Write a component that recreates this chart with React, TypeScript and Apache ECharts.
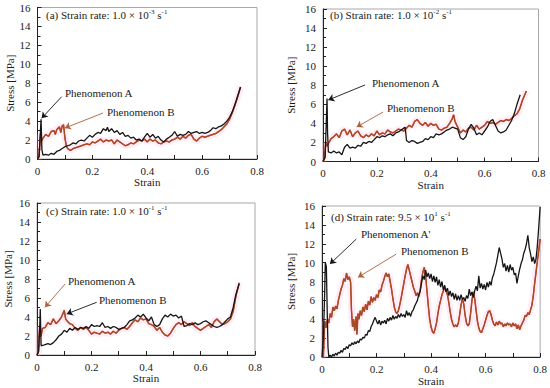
import React, { useEffect, useRef } from 'react';
import * as echarts from 'echarts';

const FONT = '"Liberation Serif", "Times New Roman", serif';

const panelLetters = ['a', 'b', 'c', 'd'];
const rateMantissa = ['1.0', '1.0', '1.0', '9.5'];
const rateExponent = ['-3', '-2', '-1', '1'];
const xTickLabels = ['0', '0.2', '0.4', '0.6', '0.8'];
const yTickLabels = ['0', '2', '4', '6', '8', '10', '12', '14', '16'];

const aBlack = [[0,0],[0.006,0.3],[0.01,2.6],[0.013,4.2],[0.016,1.0],[0.02,0.4],[0.03,0.5],[0.04,0.4],[0.05,0.6],[0.06,0.5],[0.07,0.8],[0.08,0.9],[0.09,1.1],[0.1,1.3],[0.11,1.4],[0.12,1.5],[0.13,1.7],[0.14,1.6],[0.15,1.9],[0.16,2.0],[0.17,1.9],[0.18,2.2],[0.19,2.5],[0.2,2.3],[0.21,2.6],[0.22,2.8],[0.23,2.7],[0.24,3.2],[0.25,3.0],[0.255,3.35],[0.26,2.9],[0.27,3.2],[0.28,2.8],[0.29,3.0],[0.3,2.6],[0.31,2.8],[0.32,2.4],[0.33,2.5],[0.34,2.2],[0.35,2.3],[0.36,2.0],[0.37,2.1],[0.38,1.9],[0.39,2.3],[0.4,2.7],[0.41,2.3],[0.42,2.6],[0.43,2.2],[0.44,2.4],[0.45,2.0],[0.46,1.8],[0.47,2.1],[0.48,2.3],[0.49,2.5],[0.5,2.9],[0.51,2.4],[0.52,2.6],[0.53,2.5],[0.54,2.6],[0.55,2.9],[0.56,2.7],[0.57,2.8],[0.58,2.9],[0.59,2.7],[0.6,2.8],[0.61,2.7],[0.62,2.8],[0.63,3.0],[0.64,3.3],[0.65,3.2],[0.66,3.4],[0.67,3.5],[0.68,3.7],[0.69,4.0],[0.7,4.4],[0.71,5.0],[0.72,5.8],[0.73,6.7],[0.74,7.6]];
const aRed = [[0,0],[0.005,0.2],[0.008,1.4],[0.011,2.6],[0.015,1.9],[0.02,2.2],[0.03,2.6],[0.04,2.4],[0.05,2.9],[0.06,3.0],[0.065,2.6],[0.07,3.1],[0.08,3.4],[0.085,2.8],[0.09,3.5],[0.095,3.6],[0.1,2.2],[0.105,1.4],[0.11,1.1],[0.12,0.9],[0.13,1.1],[0.14,1.2],[0.15,1.3],[0.16,1.4],[0.17,1.5],[0.18,1.6],[0.19,1.5],[0.2,1.8],[0.21,1.7],[0.22,1.9],[0.23,2.1],[0.24,1.8],[0.25,2.0],[0.26,1.9],[0.27,2.0],[0.28,1.6],[0.29,2.0],[0.3,1.8],[0.31,1.6],[0.32,1.4],[0.33,1.5],[0.34,1.7],[0.35,1.6],[0.36,1.8],[0.37,2.0],[0.38,1.9],[0.39,2.1],[0.4,1.8],[0.41,2.1],[0.42,1.9],[0.43,2.0],[0.44,1.7],[0.45,1.6],[0.46,1.8],[0.47,1.9],[0.48,1.8],[0.49,2.0],[0.5,2.1],[0.51,2.3],[0.52,2.1],[0.53,2.4],[0.54,2.2],[0.55,2.5],[0.56,2.6],[0.57,2.1],[0.58,1.9],[0.59,2.2],[0.6,2.4],[0.61,2.3],[0.62,2.4],[0.63,2.5],[0.64,2.6],[0.65,2.7],[0.66,2.9],[0.67,3.1],[0.68,3.4],[0.69,3.7],[0.7,4.2],[0.71,4.9],[0.72,5.7],[0.73,6.6],[0.74,7.6]];

const bBlack = [[0,0],[0.008,0.5],[0.012,4.0],[0.015,6.6],[0.017,3.0],[0.02,1.0],[0.03,0.9],[0.04,1.1],[0.05,0.9],[0.06,1.0],[0.07,0.7],[0.08,1.5],[0.09,1.8],[0.1,1.4],[0.11,1.5],[0.12,1.4],[0.13,1.7],[0.14,1.6],[0.15,2.0],[0.16,1.9],[0.17,2.1],[0.18,2.0],[0.19,2.3],[0.2,2.6],[0.21,2.5],[0.22,2.7],[0.23,2.6],[0.24,2.8],[0.25,2.9],[0.26,2.7],[0.27,3.0],[0.28,3.1],[0.29,3.3],[0.3,3.5],[0.305,3.6],[0.31,2.2],[0.32,2.0],[0.33,2.2],[0.34,2.1],[0.35,1.9],[0.36,2.0],[0.37,2.1],[0.38,2.4],[0.39,2.3],[0.4,2.6],[0.41,2.5],[0.42,2.9],[0.43,2.8],[0.44,2.9],[0.45,3.1],[0.46,3.3],[0.47,3.4],[0.48,3.6],[0.49,3.5],[0.5,3.4],[0.51,2.5],[0.52,2.3],[0.53,2.6],[0.54,3.4],[0.55,3.9],[0.56,3.5],[0.57,2.8],[0.58,3.0],[0.59,2.8],[0.6,3.2],[0.61,3.6],[0.62,4.2],[0.63,4.4],[0.64,3.8],[0.65,3.2],[0.66,3.0],[0.67,3.1],[0.68,3.3],[0.69,3.8],[0.7,4.3],[0.71,5.0],[0.72,6.0],[0.732,7.0]];
const bRed = [[0,0],[0.006,0.3],[0.01,2.0],[0.015,1.6],[0.02,1.9],[0.03,2.4],[0.04,2.6],[0.05,2.9],[0.06,2.5],[0.07,3.2],[0.08,3.4],[0.09,2.8],[0.1,3.3],[0.11,2.6],[0.12,3.0],[0.13,3.2],[0.14,2.7],[0.15,2.5],[0.16,2.8],[0.17,2.6],[0.18,2.9],[0.19,2.7],[0.2,3.2],[0.21,2.8],[0.22,3.0],[0.23,2.9],[0.24,3.3],[0.25,3.1],[0.26,3.0],[0.27,3.2],[0.28,3.4],[0.29,3.3],[0.3,3.2],[0.31,3.5],[0.32,3.8],[0.33,3.6],[0.34,4.2],[0.35,4.4],[0.36,4.0],[0.37,3.8],[0.38,4.1],[0.39,3.7],[0.4,4.0],[0.41,3.8],[0.42,3.9],[0.43,3.4],[0.44,3.3],[0.45,3.5],[0.46,3.6],[0.47,4.0],[0.48,4.5],[0.485,4.9],[0.49,4.2],[0.5,3.6],[0.51,3.0],[0.52,3.3],[0.53,3.1],[0.54,3.5],[0.55,3.6],[0.56,3.3],[0.57,3.8],[0.58,3.4],[0.59,3.6],[0.6,3.8],[0.61,4.2],[0.62,4.0],[0.63,4.1],[0.64,3.9],[0.65,4.1],[0.66,4.3],[0.67,4.2],[0.68,4.4],[0.69,4.3],[0.7,4.5],[0.71,4.8],[0.72,5.0],[0.73,5.5],[0.74,6.4],[0.755,7.4]];

const cBlack = [[0,0],[0.006,0.4],[0.01,3.0],[0.012,4.85],[0.015,1.0],[0.02,1.0],[0.03,1.1],[0.04,1.2],[0.05,1.1],[0.06,1.3],[0.07,1.6],[0.08,2.0],[0.09,2.2],[0.1,2.6],[0.11,2.4],[0.12,2.8],[0.13,2.6],[0.14,2.9],[0.15,2.7],[0.16,2.9],[0.17,2.8],[0.18,3.0],[0.19,2.8],[0.2,3.2],[0.21,3.0],[0.22,3.1],[0.23,3.0],[0.24,3.4],[0.25,2.9],[0.26,3.0],[0.27,2.8],[0.28,3.0],[0.29,2.9],[0.3,2.7],[0.31,2.8],[0.32,2.9],[0.33,3.2],[0.34,3.6],[0.35,3.7],[0.36,3.9],[0.37,4.2],[0.38,4.0],[0.39,4.3],[0.4,3.9],[0.41,3.6],[0.42,4.0],[0.43,3.2],[0.44,3.0],[0.45,3.2],[0.46,3.8],[0.47,4.2],[0.48,4.0],[0.49,4.3],[0.5,4.1],[0.51,4.2],[0.52,3.9],[0.53,4.1],[0.54,3.0],[0.55,3.1],[0.56,3.3],[0.57,3.2],[0.58,3.4],[0.59,3.2],[0.6,3.3],[0.61,3.5],[0.62,3.6],[0.63,3.4],[0.64,3.2],[0.65,3.0],[0.66,2.9],[0.67,3.0],[0.68,3.2],[0.69,3.5],[0.7,3.8],[0.71,4.0],[0.72,5.0],[0.73,6.4],[0.742,7.5]];
const cRed = [[0,0],[0.005,0.3],[0.01,3.0],[0.015,2.0],[0.02,2.8],[0.03,2.9],[0.04,3.4],[0.05,3.2],[0.06,3.8],[0.07,3.3],[0.08,3.6],[0.09,4.0],[0.1,4.7],[0.105,3.8],[0.11,3.6],[0.12,3.3],[0.13,3.2],[0.14,2.8],[0.15,2.6],[0.16,2.9],[0.17,2.7],[0.18,2.9],[0.19,2.6],[0.2,2.2],[0.21,2.4],[0.22,2.3],[0.23,2.2],[0.24,2.5],[0.25,2.3],[0.26,2.4],[0.27,2.2],[0.28,2.5],[0.29,2.3],[0.3,2.6],[0.31,2.8],[0.32,2.9],[0.33,2.7],[0.34,3.0],[0.35,3.4],[0.36,3.7],[0.37,3.5],[0.38,3.9],[0.39,3.7],[0.4,3.8],[0.41,3.3],[0.42,3.2],[0.43,3.0],[0.44,2.6],[0.45,2.9],[0.46,2.4],[0.47,2.1],[0.48,2.0],[0.49,2.3],[0.5,2.8],[0.51,3.2],[0.52,3.4],[0.53,3.2],[0.54,3.5],[0.55,3.3],[0.56,3.1],[0.57,3.4],[0.58,3.0],[0.59,2.8],[0.6,2.6],[0.61,2.8],[0.62,3.0],[0.63,3.2],[0.64,2.9],[0.65,3.5],[0.66,3.8],[0.67,3.5],[0.68,3.2],[0.69,3.3],[0.7,3.5],[0.71,3.8],[0.72,4.6],[0.73,6.2],[0.742,7.6]];

const dBlack = [[0,0],[0.005,2.0],[0.01,7.0],[0.012,10.0],[0.016,9.6],[0.019,5.0],[0.022,1.0],[0.025,0],[0.03,0.2],[0.035,0.0],[0.04,0.3],[0.045,0.1],[0.05,0.4],[0.055,0.2],[0.06,0.5],[0.065,0.4],[0.07,0.7],[0.075,0.5],[0.08,0.9],[0.085,0.8],[0.09,1.1],[0.095,0.9],[0.1,1.3],[0.105,1.2],[0.11,1.5],[0.115,1.3],[0.12,1.6],[0.125,1.4],[0.13,1.7],[0.135,1.5],[0.14,1.9],[0.145,1.8],[0.15,2.1],[0.155,2.0],[0.16,2.4],[0.165,2.3],[0.17,2.8],[0.175,2.7],[0.18,3.2],[0.185,3.5],[0.19,3.9],[0.195,4.2],[0.2,3.8],[0.205,3.5],[0.21,3.9],[0.215,3.4],[0.22,3.8],[0.225,3.6],[0.23,3.9],[0.235,3.5],[0.24,4.1],[0.245,3.8],[0.25,4.2],[0.255,3.9],[0.26,4.4],[0.265,4.0],[0.27,4.3],[0.275,4.1],[0.28,4.5],[0.285,4.2],[0.29,4.6],[0.295,4.3],[0.3,4.5],[0.305,4.2],[0.31,4.9],[0.315,4.4],[0.32,4.7],[0.325,4.3],[0.33,4.8],[0.335,5.0],[0.34,5.4],[0.345,5.7],[0.35,6.0],[0.355,6.6],[0.36,7.0],[0.365,7.8],[0.37,8.6],[0.375,8.2],[0.38,9.2],[0.385,8.5],[0.39,8.9],[0.395,8.3],[0.4,8.8],[0.405,8.0],[0.41,8.6],[0.415,7.9],[0.42,8.5],[0.425,7.6],[0.43,8.2],[0.435,7.4],[0.44,8.0],[0.445,7.1],[0.45,7.6],[0.455,6.9],[0.46,7.3],[0.465,6.5],[0.47,7.0],[0.475,6.4],[0.48,6.8],[0.485,6.1],[0.49,6.7],[0.495,6.0],[0.5,6.5],[0.505,6.0],[0.51,6.6],[0.515,6.1],[0.52,6.3],[0.525,5.9],[0.53,6.5],[0.535,6.2],[0.54,7.2],[0.545,6.5],[0.55,6.9],[0.555,6.3],[0.56,7.0],[0.565,7.5],[0.57,7.0],[0.575,8.6],[0.58,7.3],[0.585,7.8],[0.59,7.2],[0.595,7.7],[0.6,7.1],[0.605,7.9],[0.61,7.4],[0.615,8.0],[0.62,7.6],[0.625,8.4],[0.63,8.8],[0.635,9.4],[0.64,10.0],[0.645,10.8],[0.65,11.6],[0.655,11.0],[0.66,10.4],[0.665,9.5],[0.67,9.9],[0.675,9.1],[0.68,9.7],[0.685,9.0],[0.69,9.8],[0.695,9.2],[0.7,9.5],[0.705,8.7],[0.71,8.9],[0.715,7.8],[0.72,8.6],[0.725,9.3],[0.73,9.9],[0.735,10.3],[0.74,11.0],[0.745,11.4],[0.75,12.0],[0.755,12.9],[0.76,11.6],[0.765,10.9],[0.77,10.1],[0.775,10.6],[0.78,9.9],[0.785,10.4],[0.79,11.8],[0.795,13.8],[0.8,15.9]];
const dRed = [[0,0],[0.005,0],[0.01,3.8],[0.015,3.1],[0.02,4.0],[0.025,3.6],[0.03,4.6],[0.035,4.2],[0.04,5.3],[0.045,4.9],[0.05,5.4],[0.055,5.1],[0.06,6.0],[0.065,6.6],[0.07,7.2],[0.075,7.6],[0.08,8.3],[0.085,8.0],[0.09,8.9],[0.095,8.2],[0.1,8.5],[0.105,7.9],[0.108,5.0],[0.112,3.2],[0.116,4.0],[0.12,2.8],[0.125,4.3],[0.128,2.4],[0.132,4.6],[0.136,4.0],[0.14,4.9],[0.145,4.4],[0.15,5.3],[0.155,4.8],[0.16,5.6],[0.165,5.0],[0.17,5.9],[0.175,5.5],[0.18,6.4],[0.185,5.8],[0.19,6.3],[0.195,6.0],[0.2,6.6],[0.205,6.3],[0.21,7.1],[0.215,6.9],[0.22,7.6],[0.225,8.0],[0.23,8.5],[0.235,8.9],[0.24,8.5],[0.245,8.8],[0.25,8.0],[0.255,7.2],[0.26,6.2],[0.265,5.3],[0.27,4.8],[0.275,4.6],[0.28,4.9],[0.285,5.5],[0.29,6.2],[0.295,7.0],[0.3,7.8],[0.305,8.6],[0.31,9.3],[0.315,9.8],[0.32,9.2],[0.325,8.6],[0.33,8.0],[0.335,7.4],[0.34,7.0],[0.345,6.5],[0.35,6.8],[0.355,6.4],[0.36,7.0],[0.365,8.2],[0.37,9.0],[0.375,9.5],[0.38,8.6],[0.385,7.0],[0.39,5.4],[0.395,4.0],[0.4,3.2],[0.405,2.7],[0.41,2.5],[0.415,3.0],[0.42,3.6],[0.425,4.6],[0.43,5.4],[0.435,6.0],[0.44,6.6],[0.445,7.0],[0.45,7.3],[0.455,7.0],[0.46,6.6],[0.465,5.8],[0.47,4.8],[0.475,4.0],[0.48,3.5],[0.485,3.2],[0.49,3.4],[0.495,3.2],[0.5,3.6],[0.505,4.5],[0.51,5.5],[0.515,6.2],[0.52,5.6],[0.525,4.4],[0.53,3.6],[0.535,3.3],[0.54,3.5],[0.545,4.6],[0.55,6.0],[0.555,6.9],[0.56,6.2],[0.565,5.0],[0.57,3.8],[0.575,3.1],[0.58,2.7],[0.585,2.6],[0.59,3.0],[0.595,3.4],[0.6,3.9],[0.605,4.4],[0.61,4.8],[0.615,4.9],[0.62,4.5],[0.625,3.9],[0.63,3.5],[0.635,3.3],[0.64,3.7],[0.645,3.4],[0.65,3.8],[0.655,3.5],[0.66,3.6],[0.665,3.2],[0.67,3.5],[0.675,3.3],[0.68,3.6],[0.685,3.4],[0.69,3.5],[0.695,3.2],[0.7,3.6],[0.705,3.3],[0.71,3.5],[0.715,3.0],[0.72,3.4],[0.725,2.9],[0.73,3.3],[0.735,3.6],[0.74,3.9],[0.745,4.4],[0.75,4.3],[0.755,4.7],[0.76,4.5],[0.765,5.0],[0.77,5.5],[0.775,6.5],[0.78,7.8],[0.785,9.0],[0.79,10.2],[0.795,11.3],[0.8,12.5]];

const blackSeries = [aBlack, bBlack, cBlack, dBlack];
const redSeries = [aRed, bRed, cRed, dRed];

// annotation labels and arrow endpoints (data coords: [strain, stress])
const annoLabels = [
  ['Phenomenon A', 'Phenomenon B'],
  ['Phenomenon A', 'Phenomenon B'],
  ['Phenomenon A', 'Phenomenon B'],
  ["Phenomenon A'", 'Phenomenon B'],
];
const arrowFrom = [
  [[0.088, 6.58], [0.239, 4.86]],
  [[0.156, 8.03], [0.223, 5.19]],
  [[0.103, 7.47], [0.219, 5.55]],
  [[0.126, 12.5], [0.272, 10.9]],
];
const arrowTo = [
  [[0.015, 4.3], [0.1, 3.27]],
  [[0.0197, 6.45], [0.125, 3.62]],
  [[0.029, 5.02], [0.109, 4.32]],
  [[0.029, 9.85], [0.132, 8.44]],
];

const BLACK = '#151515';
const RED = '#dc3522';
const BROWN = '#9a5128';
const ARROW_BROWN = '#a8623c';
const TEXT = '#1a1a1a';

const grids = [
  { left: 37.5, top: 7.5, width: 219.5, height: 151.5 },
  { left: 323, top: 9, width: 215.5, height: 152.5 },
  { left: 37, top: 203, width: 218, height: 152 },
  { left: 322, top: 206, width: 220, height: 151 },
];
const xNameGap = [17.5, 15, 15.5, 18.5];
const yNameGap = [22, 26.5, 24, 25.5];
const titlePos = [[46, 15], [330, 15], [46, 211], [331, 217]];
const annoPos = [
  [[65, 93], [107, 112]],
  [[372, 83], [387, 108]],
  [[68, 281], [99, 300]],
  [[361, 234], [401, 251]],
];
const arrowColors = [
  [BLACK, ARROW_BROWN],
  [BLACK, ARROW_BROWN],
  [ARROW_BROWN, BLACK],
  [BLACK, ARROW_BROWN],
];

function buildOption() {
  const axisColor = '#222';
  const labelStyle = { fontFamily: FONT, fontSize: 11, fontWeight: 'normal', color: TEXT };
  const xAxis: any[] = [];
  const yAxis: any[] = [];
  const series: any[] = [];
  const graphic: any[] = [];
  const grid = grids.map((g) => ({ ...g, show: true, borderColor: '#a8a8a8', borderWidth: 1, backgroundColor: 'transparent' }));

  for (let i = 0; i < 4; i++) {
    xAxis.push({
      type: 'value', gridIndex: i, min: 0, max: 0.8, interval: 0.2,
      name: 'Strain', nameLocation: 'middle', nameGap: xNameGap[i],
      nameTextStyle: labelStyle,
      axisLine: { show: true, onZero: false, lineStyle: { color: axisColor, width: 1 } },
      axisTick: { show: true, inside: true, length: 4, lineStyle: { color: axisColor } },
      minorTick: { show: true, splitNumber: 2, length: 4, lineStyle: { color: axisColor } },
      splitLine: { show: false },
      axisLabel: { ...labelStyle, margin: 6, formatter: (v: number) => xTickLabels[Math.round(v / 0.2)] },
    });
    yAxis.push({
      type: 'value', gridIndex: i, min: 0, max: 16, interval: 2,
      name: 'Stress [MPa]', nameLocation: 'middle', nameGap: yNameGap[i], nameRotate: 90,
      nameTextStyle: labelStyle,
      axisLine: { show: true, onZero: false, lineStyle: { color: axisColor, width: 1 } },
      axisTick: { show: true, inside: true, length: 4, lineStyle: { color: axisColor } },
      minorTick: { show: true, splitNumber: 2, length: 3, lineStyle: { color: axisColor } },
      splitLine: { show: false },
      axisLabel: { ...labelStyle, margin: 7, formatter: (v: number) => yTickLabels[Math.round(v / 2)] },
    });

    const common = { type: 'line', xAxisIndex: i, yAxisIndex: i, showSymbol: false, symbol: 'none', animation: false, silent: true };
    series.push({ ...common, name: `halo${i}`, data: redSeries[i], z: 1, lineStyle: { color: 'rgba(255,175,220,0.22)', width: 7 } });
    series.push({ ...common, name: `red${i}`, data: redSeries[i], z: 2, lineStyle: { color: RED, width: 1.5 } });
    series.push({ ...common, name: `brown${i}`, data: redSeries[i], z: 3, lineStyle: { color: BROWN, width: 1.1 } });
    series.push({
      ...common, name: `black${i}`, data: blackSeries[i], z: 4, lineStyle: { color: BLACK, width: 1.3 },
      markLine: {
        silent: true, animation: false, symbol: ['none', 'arrow'], symbolSize: 6,
        label: { show: false },
        data: [0, 1].map((k) => [
          { coord: arrowFrom[i][k], lineStyle: { color: arrowColors[i][k], width: 0.9, type: 'solid' }, itemStyle: { color: arrowColors[i][k] } },
          { coord: arrowTo[i][k] },
        ]),
      },
    });

    graphic.push({
      type: 'text', x: titlePos[i][0], y: titlePos[i][1],
      style: {
        text: `(${panelLetters[i]}) Strain rate: ${rateMantissa[i]} × 10{sup|${rateExponent[i]}} s{sup|-1}`,
        fontFamily: FONT, fontSize: 11, fontWeight: 'normal', fill: TEXT, lineHeight: 14, verticalAlign: 'middle',
        rich: { sup: { fontFamily: FONT, fontSize: 7, fontWeight: 'normal', lineHeight: 9, verticalAlign: 'top', fill: TEXT } },
      },
    });
    for (let k = 0; k < 2; k++) {
      graphic.push({
        type: 'text', x: annoPos[i][k][0], y: annoPos[i][k][1],
        style: { text: annoLabels[i][k], fontFamily: FONT, fontSize: 11, fontWeight: 'normal', fill: TEXT, verticalAlign: 'middle' },
      });
    }
  }
  return { animation: false, backgroundColor: '#ffffff', grid, xAxis, yAxis, series, graphic };
}

export default function App() {
  const ref = useRef<HTMLDivElement>(null);
  useEffect(() => {
    if (!ref.current) return;
    const chart = echarts.init(ref.current, undefined, { renderer: 'svg' });
    chart.setOption(buildOption() as any);
    return () => chart.dispose();
  }, []);
  return <div ref={ref} style={{ position: 'fixed', left: 0, top: 0, width: 550, height: 388, background: '#fff' }} />;
}
